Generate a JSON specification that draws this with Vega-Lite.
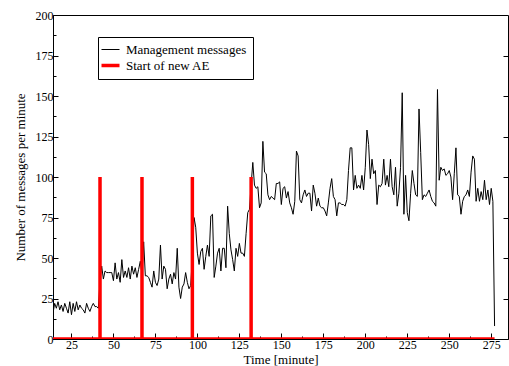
{
  "$schema": "https://vega.github.io/schema/vega-lite/v6.json",
  "autosize": "none",
  "width": 455,
  "height": 324,
  "padding": {"left": 53, "top": 15, "right": 1, "bottom": 27},
  "background": "white",
  "config": {
    "font": "Times New Roman, Liberation Serif, serif",
    "view": {"stroke": "black", "strokeWidth": 1},
    "axis": {"zindex": 1, "grid": false, "domainColor": "black", "tickColor": "black", "labelColor": "black", "titleColor": "black", "labelFont": "Times New Roman, Liberation Serif, serif", "titleFont": "Times New Roman, Liberation Serif, serif", "labelFontSize": 12, "titleFontSize": 13, "titleFontWeight": "normal", "domainWidth": 1, "tickWidth": 1},
    "legend": {"orient": "none", "legendX": 45, "legendY": 22, "strokeColor": "black", "fillColor": "white", "padding": 6, "rowPadding": 1, "labelFont": "Times New Roman, Liberation Serif, serif", "labelFontSize": 13, "labelColor": "black", "symbolType": "stroke", "symbolSize": 324, "labelOffset": 9, "title": null}
  },
  "datasets": {
    "mgmt": [
      {"t":14,"v":16},{"t":15,"v":22},{"t":16,"v":19},{"t":17,"v":23},{"t":18,"v":18},{"t":19,"v":21},{"t":20,"v":17},{"t":21,"v":22},{"t":22,"v":19},{"t":23,"v":16},{"t":24,"v":23},{"t":25,"v":15},{"t":26,"v":22},{"t":27,"v":17},{"t":28,"v":23},{"t":29,"v":18},{"t":30,"v":21},{"t":31,"v":19},{"t":32,"v":18},{"t":33,"v":16},{"t":34,"v":22},{"t":35,"v":19},{"t":36,"v":17},{"t":37,"v":20},{"t":38,"v":22},{"t":39,"v":20},{"t":40,"v":20},{"t":41,"v":19},
      {"t":42,"v":36},{"t":43,"v":45},{"t":44,"v":37},{"t":45,"v":42},{"t":46,"v":41},{"t":47,"v":41},{"t":48,"v":41},{"t":49,"v":41},{"t":50,"v":36},{"t":51,"v":47},{"t":52,"v":37},{"t":53,"v":41},{"t":54,"v":35},{"t":55,"v":49},{"t":56,"v":38},{"t":57,"v":42},{"t":58,"v":38},{"t":59,"v":44},{"t":60,"v":37},{"t":61,"v":45},{"t":62,"v":40},{"t":63,"v":44},{"t":64,"v":38},{"t":65,"v":43},{"t":66,"v":48},
      {"t":67,"v":40},{"t":68,"v":60},{"t":69,"v":39},{"t":70,"v":39},{"t":71,"v":38},{"t":72,"v":35},{"t":73,"v":32},{"t":74,"v":42},{"t":75,"v":35},{"t":76,"v":33},{"t":77,"v":37},{"t":78,"v":58},{"t":79,"v":37},{"t":80,"v":45},{"t":81,"v":43},{"t":82,"v":31},{"t":83,"v":37},{"t":84,"v":40},{"t":85,"v":34},{"t":86,"v":41},{"t":87,"v":37},{"t":88,"v":56},{"t":89,"v":32},{"t":90,"v":25},{"t":91,"v":32},{"t":92,"v":34},{"t":93,"v":41},{"t":94,"v":35},{"t":95,"v":31},{"t":96,"v":33},
      {"t":97,"v":50},{"t":98,"v":75},{"t":99,"v":69},{"t":100,"v":53},{"t":101,"v":46},{"t":102,"v":54},{"t":103,"v":56},{"t":104,"v":43},{"t":105,"v":51},{"t":106,"v":58},{"t":107,"v":51},{"t":108,"v":76},{"t":109,"v":77},{"t":110,"v":38},{"t":111,"v":45},{"t":112,"v":53},{"t":113,"v":56},{"t":114,"v":42},{"t":115,"v":56},{"t":116,"v":56},{"t":117,"v":44},{"t":118,"v":82},{"t":119,"v":65},{"t":120,"v":55},{"t":121,"v":49},{"t":122,"v":42},{"t":123,"v":56},{"t":124,"v":51},{"t":125,"v":59},{"t":126,"v":53},{"t":127,"v":53},{"t":128,"v":51},{"t":129,"v":65},{"t":130,"v":78},{"t":131,"v":80},{"t":132,"v":95},
      {"t":133,"v":109},{"t":134,"v":95},{"t":135,"v":93},{"t":136,"v":94},{"t":137,"v":81},{"t":138,"v":84},{"t":139,"v":122},{"t":140,"v":103},{"t":141,"v":102},{"t":142,"v":89},{"t":143,"v":86},{"t":144,"v":88},{"t":145,"v":87},{"t":146,"v":86},{"t":147,"v":96},{"t":148,"v":96},{"t":149,"v":97},{"t":150,"v":83},{"t":151,"v":93},{"t":152,"v":94},{"t":153,"v":87},{"t":154,"v":91},{"t":155,"v":84},{"t":156,"v":81},{"t":157,"v":77},{"t":158,"v":85},{"t":159,"v":116},{"t":160,"v":113},{"t":161,"v":86},{"t":162,"v":84},{"t":163,"v":89},{"t":164,"v":92},{"t":165,"v":88},{"t":166,"v":90},{"t":167,"v":90},{"t":168,"v":79},{"t":169,"v":95},{"t":170,"v":90},{"t":171,"v":82},{"t":172,"v":87},{"t":173,"v":82},{"t":174,"v":81},{"t":175,"v":81},{"t":176,"v":79},{"t":177,"v":76},{"t":178,"v":84},{"t":179,"v":93},{"t":180,"v":99},{"t":181,"v":88},{"t":182,"v":86},{"t":183,"v":76},{"t":184,"v":84},{"t":185,"v":84},{"t":186,"v":83},{"t":187,"v":83},{"t":188,"v":82},{"t":189,"v":86},{"t":190,"v":104},{"t":191,"v":118},{"t":192,"v":118},{"t":193,"v":92},{"t":194,"v":101},{"t":195,"v":93},{"t":196,"v":95},{"t":197,"v":93},{"t":198,"v":101},{"t":199,"v":92},{"t":200,"v":106},{"t":201,"v":129},{"t":202,"v":120},{"t":203,"v":99},{"t":204,"v":111},{"t":205,"v":102},{"t":206,"v":104},{"t":207,"v":83},{"t":208,"v":95},{"t":209,"v":94},{"t":210,"v":96},{"t":211,"v":111},{"t":212,"v":95},{"t":213,"v":101},{"t":214,"v":94},{"t":215,"v":111},{"t":216,"v":94},{"t":217,"v":89},{"t":218,"v":106},{"t":219,"v":82},{"t":220,"v":90},{"t":221,"v":106},{"t":222,"v":152},{"t":223,"v":77},{"t":224,"v":101},{"t":225,"v":78},{"t":226,"v":73},{"t":227,"v":90},{"t":228,"v":104},{"t":229,"v":96},{"t":230,"v":89},{"t":231,"v":88},{"t":232,"v":142},{"t":233,"v":115},{"t":234,"v":86},{"t":235,"v":89},{"t":236,"v":88},{"t":237,"v":90},{"t":238,"v":92},{"t":239,"v":88},{"t":240,"v":85},{"t":241,"v":84},{"t":242,"v":82},{"t":243,"v":154},{"t":244,"v":98},{"t":245,"v":106},{"t":246,"v":104},{"t":247,"v":105},{"t":248,"v":101},{"t":249,"v":102},{"t":250,"v":104},{"t":251,"v":100},{"t":252,"v":86},{"t":253,"v":102},{"t":254,"v":118},{"t":255,"v":89},{"t":256,"v":88},{"t":257,"v":77},{"t":258,"v":85},{"t":259,"v":88},{"t":260,"v":89},{"t":261,"v":92},{"t":262,"v":88},{"t":263,"v":103},{"t":264,"v":113},{"t":265,"v":111},{"t":266,"v":85},{"t":267,"v":93},{"t":268,"v":85},{"t":269,"v":91},{"t":270,"v":86},{"t":271,"v":98},{"t":272,"v":86},{"t":273,"v":92},{"t":274,"v":83},{"t":275,"v":93},{"t":276,"v":85},{"t":277,"v":8}
    ],
    "ae": [
      {"i":0,"t":14,"v":0},{"i":1,"t":42,"v":0},{"i":2,"t":42,"v":100},{"i":3,"t":42,"v":0},{"i":4,"t":67,"v":0},{"i":5,"t":67,"v":100},{"i":6,"t":67,"v":0},{"i":7,"t":97,"v":0},{"i":8,"t":97,"v":100},{"i":9,"t":97,"v":0},{"i":10,"t":132,"v":0},{"i":11,"t":132,"v":100},{"i":12,"t":132,"v":0},{"i":13,"t":277,"v":0}
    ]
  },
  "resolve": {"axis": {"x": "independent", "y": "independent"}},
  "layer": [
    {
      "data": {"name": "mgmt"},
      "mark": {"type": "line", "strokeWidth": 1, "clip": true},
      "encoding": {
        "x": {"field": "t", "type": "quantitative", "scale": {"domain": [14, 285], "nice": false, "zero": false},
              "axis": {"orient": "bottom", "values": [25,50,75,100,125,150,175,200,225,250,275], "tickSize": -6, "labelPadding": 6, "labelFont": "Times New Roman, Liberation Serif, serif", "labelFontSize": 12, "labelColor": "black", "title": "Time [minute]", "titleFont": "Times New Roman, Liberation Serif, serif", "titleFontSize": 13, "titleFontWeight": "normal", "titlePadding": 3}},
        "y": {"field": "v", "type": "quantitative", "scale": {"domain": [0, 200], "nice": false},
              "axis": {"orient": "left", "values": [0,25,50,75,100,125,150,175,200], "tickSize": -5, "labelPadding": 5, "labelFont": "Times New Roman, Liberation Serif, serif", "labelFontSize": 12, "labelColor": "black", "title": "Number of messages per minute", "titleFont": "Times New Roman, Liberation Serif, serif", "titleFontSize": 13, "titleFontWeight": "normal", "titlePadding": 8}},
        "color": {"datum": "Management messages", "type": "nominal",
                  "scale": {"domain": ["Management messages", "Start of new AE"], "range": ["#000000", "#ff0000"]},
                  "legend": {"labelFont": "Times New Roman, Liberation Serif, serif", "encode": {"symbols": {"update": {"strokeWidth": {"signal": "datum.value === 'Start of new AE' ? 3.5 : 1"}}}}}}
      }
    },
    {
      "data": {"name": "ae"},
      "mark": {"type": "line", "strokeWidth": 3.5, "clip": true, "strokeJoin": "miter"},
      "encoding": {
        "x": {"field": "t", "type": "quantitative",
              "axis": {"orient": "bottom", "values": [37.5,62.5,87.5,112.5,137.5,162.5,187.5,212.5,237.5,262.5], "labels": false, "domain": false, "tickSize": -3, "title": null}},
        "y": {"field": "v", "type": "quantitative",
              "axis": {"orient": "left", "values": [12.5,37.5,62.5,87.5,112.5,137.5,162.5,187.5], "labels": false, "domain": false, "tickSize": -3, "title": null}},
        "order": {"field": "i", "type": "quantitative"},
        "color": {"datum": "Start of new AE", "type": "nominal"}
      }
    },
    {
      "data": {"name": "ae"},
      "mark": {"type": "line", "opacity": 0, "strokeWidth": 0},
      "encoding": {
        "x": {"field": "t", "type": "quantitative", "axis": null},
        "y": {"field": "v", "type": "quantitative",
              "axis": {"orient": "right", "values": [25,50,75,100,125,150,175], "labels": false, "domain": false, "tickSize": -5, "title": null}}
      }
    }
  ]
}
